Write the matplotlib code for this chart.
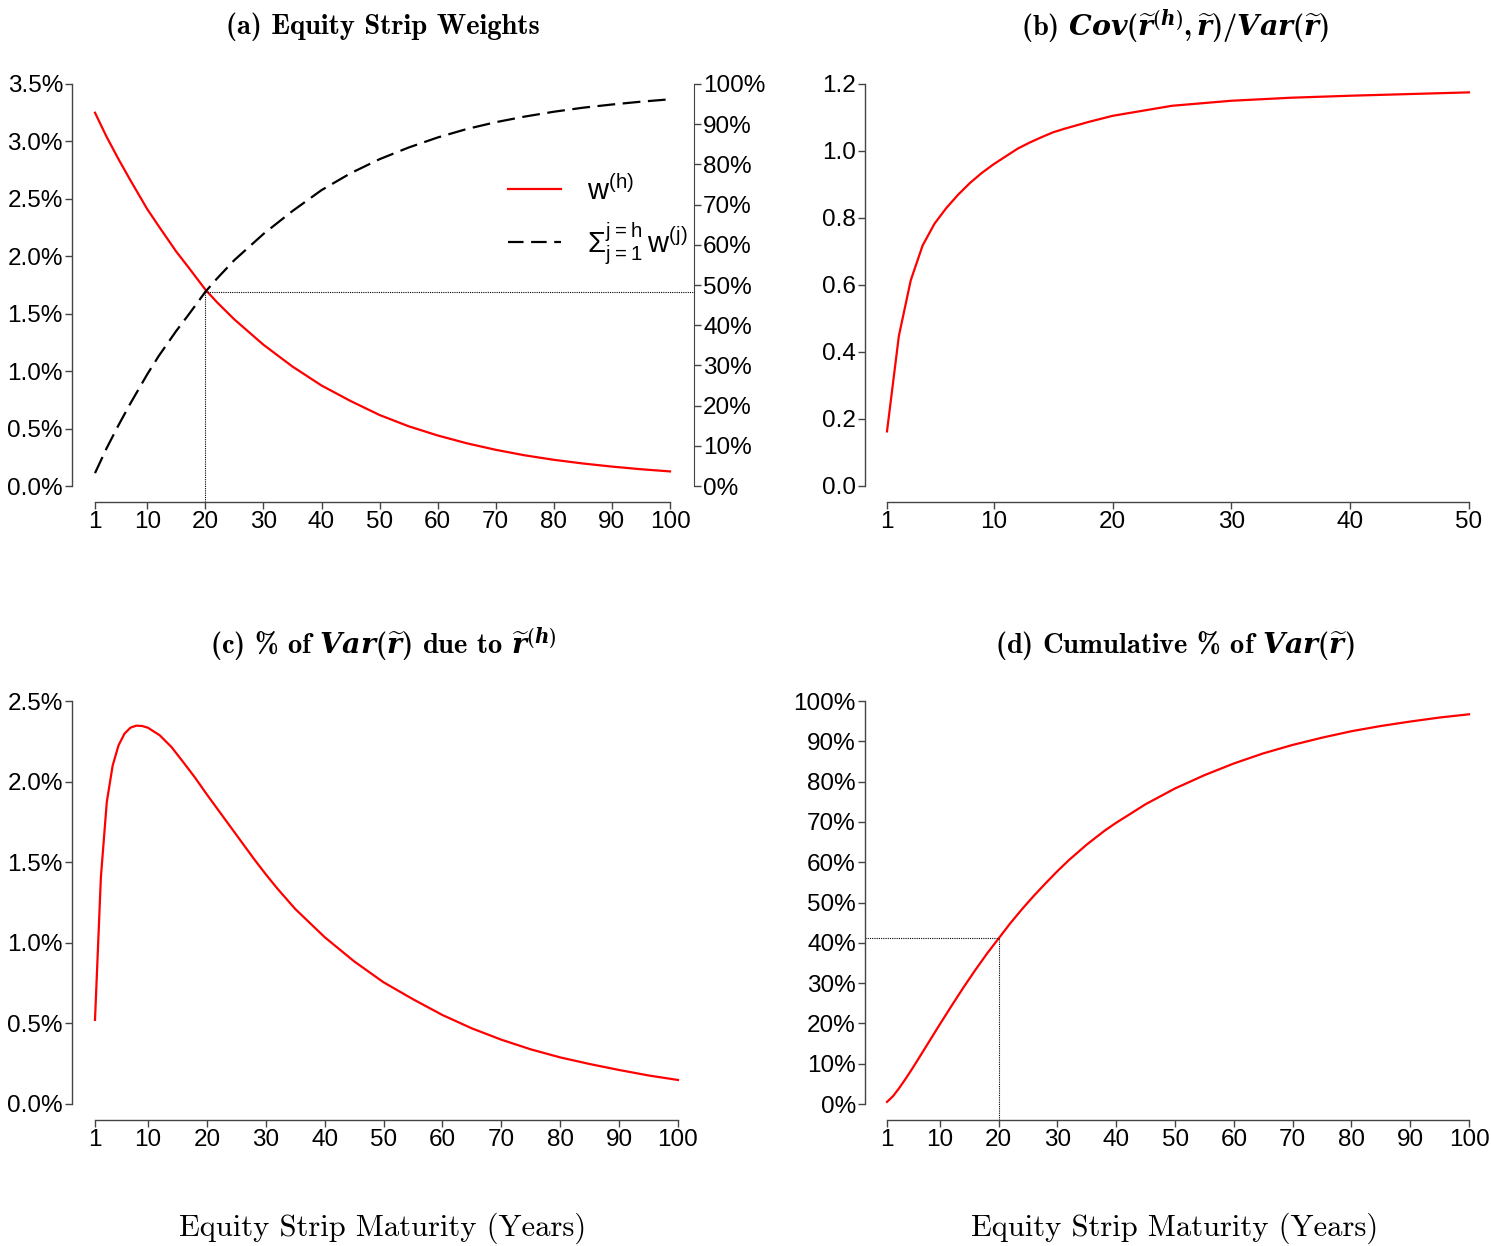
#
# Description: equity strip weights / variance decomposition, 2x2 panels
#

import matplotlib
matplotlib.use('Agg')
import matplotlib.pyplot as plt
from matplotlib.lines import Line2D

# ---- data ----
# (a) strip weights w(h) in %, and cumulative weight in %
h_a = [1, 3, 5, 7, 10, 12, 15, 17, 20, 22, 25, 30, 35, 40, 45, 50, 55, 60,
       65, 70, 75, 80, 85, 90, 95, 100]
w_h = [3.25, 3.04, 2.85, 2.67, 2.41, 2.26, 2.04, 1.91, 1.71, 1.60, 1.45, 1.23,
       1.04, 0.875, 0.74, 0.618, 0.52, 0.44, 0.372, 0.315, 0.267, 0.228, 0.196,
       0.169, 0.146, 0.127]
cum_w = [3.2, 9.4, 15.0, 20.3, 27.8, 32.4, 38.6, 42.4, 48.3, 51.6, 56.2, 62.7,
         68.4, 73.6, 77.8, 81.3, 84.2, 86.7, 88.8, 90.5, 91.9, 93.1, 94.1,
         94.9, 95.6, 96.2]

# (b) Cov(r_h, r) / Var(r)
h_b = [1, 2, 3, 4, 5, 6, 7, 8, 9, 10, 11, 12, 13, 14, 15, 16, 17, 18, 19,
       20, 25, 30, 35, 40, 45, 50]
cov_ratio = [0.163, 0.448, 0.614, 0.718, 0.783, 0.830, 0.870, 0.905, 0.935, 0.961,
             0.984, 1.007, 1.025, 1.041, 1.056, 1.067, 1.077, 1.087, 1.096,
             1.105, 1.135, 1.150, 1.159, 1.165, 1.170, 1.175]

# (c) % of Var(r) due to r_h
h_c = [1, 2, 3, 4, 5, 6, 7, 8, 9, 10, 12, 14, 16, 18, 20, 22, 24, 26, 28, 30,
       32, 35, 40, 45, 50, 55, 60, 65, 70, 75, 80, 85, 90, 95, 100]
var_share = [0.522, 1.407, 1.873, 2.10, 2.225, 2.297, 2.334, 2.347, 2.345, 2.334,
             2.287, 2.214, 2.12, 2.024, 1.92, 1.82, 1.72, 1.62, 1.52, 1.425,
             1.335, 1.21, 1.035, 0.885, 0.755, 0.65, 0.552, 0.469, 0.399, 0.339,
             0.289, 0.248, 0.211, 0.177, 0.149]

# (d) cumulative % of Var(r)
h_d = [1, 2, 3, 4, 5, 6, 8, 10, 12, 14, 16, 18, 20, 22, 24, 26, 28, 30,
       32, 35, 38, 40, 45, 50, 55, 60, 65, 70, 75, 80, 85, 90, 95, 100]
cum_var = [0.52, 1.9, 3.8, 5.9, 8.1, 10.4, 15.1, 19.8, 24.4, 28.9, 33.2, 37.3,
           41.1, 44.9, 48.4, 51.7, 54.8, 57.8, 60.6, 64.4, 67.8, 69.8, 74.4,
           78.3, 81.6, 84.5, 87.0, 89.1, 90.9, 92.5, 93.8, 94.9, 95.9, 96.7]

x_ticks_long = [1, 10, 20, 30, 40, 50, 60, 70, 80, 90, 100]
x_ticks_short = [1, 10, 20, 30, 40, 50]

# ---- style ----
plt.rcParams['font.family'] = ['Liberation Sans']
plt.rcParams['mathtext.fontset'] = 'custom'
plt.rcParams['mathtext.rm'] = 'cmb10'
plt.rcParams['mathtext.bf'] = 'cmb10'
plt.rcParams['mathtext.it'] = 'DejaVu Serif:italic:bold'
plt.rcParams['mathtext.sf'] = 'Liberation Sans'

W, H = 1491, 1246
fig = plt.figure(figsize=(W / 100, H / 100), dpi=100)

SPINE = '#444444'
TICK_FS = 17.5


def r_axes(box, xlim, ylim, xticks, yticks, ylabels):
    # box = (left, top, right, bottom) in pixels, R-like detached axes
    l, t, r, b = box
    ax = fig.add_axes([l / W, 1 - b / H, (r - l) / W, (b - t) / H])
    ax.set_xlim(xlim)
    ax.set_ylim(ylim)
    ax.spines[['top', 'right']].set_visible(False)
    for s in ['left', 'bottom']:
        ax.spines[s].set_color(SPINE)
        ax.spines[s].set_linewidth(1.0)
    ax.spines['left'].set_bounds(yticks[0], yticks[-1])
    ax.spines['bottom'].set_bounds(xticks[0], xticks[-1])
    ax.set_xticks(xticks)
    ax.set_xticklabels([str(v) for v in xticks])
    ax.set_yticks(yticks)
    ax.set_yticklabels(ylabels)
    ax.tick_params(length=5, width=1, color=SPINE, labelsize=TICK_FS, pad=1.5)
    ax.patch.set_visible(False)
    return ax


RED = '#ff0000'

# (a)
ax_a = r_axes((72, 84, 694, 502), (-2.96, 104.13), (-0.1393, 3.5), x_ticks_long,
              [0, 0.5, 1.0, 1.5, 2.0, 2.5, 3.0, 3.5],
              ['0.0%', '0.5%', '1.0%', '1.5%', '2.0%', '2.5%', '3.0%', '3.5%'])
ax_a2 = ax_a.twinx()
ax_a2.set_ylim(-3.98, 100)
ax_a2.spines[['top', 'left', 'bottom']].set_visible(False)
ax_a2.spines['right'].set_color(SPINE)
ax_a2.spines['right'].set_bounds(0, 100)
ax_a2.set_yticks(range(0, 101, 10))
ax_a2.set_yticklabels([f'{v}%' for v in range(0, 101, 10)])
ax_a2.tick_params(length=5, width=1, color=SPINE, labelsize=TICK_FS, pad=1.5)

i20 = h_a.index(20)
ax_a.plot(h_a, w_h, color=RED, lw=1.6)
ax_a2.plot(h_a, cum_w, color='black', lw=1.6, dashes=(8, 3.4))
ax_a.plot([20, 20], [-0.1393, w_h[i20]], color='black', lw=0.8, ls=(0, (1, 1)), clip_on=False)
ax_a2.plot([20, 104.13], [cum_w[i20], cum_w[i20]], color='black', lw=0.8, ls=(0, (1, 1)))

handles = [Line2D([], [], color=RED, lw=1.6),
           Line2D([], [], color='black', lw=1.6, dashes=(7, 3.4))]
labels = [r'$\mathsf{w}^{\mathsf{(h)}}$',
          r'$\mathsf{\Sigma}_{\mathsf{j=1}}^{\mathsf{j=h}}\,\mathsf{w}^{\mathsf{(j)}}$']
ax_a2.legend(handles, labels, loc='upper left', bbox_to_anchor=(508 / W, 1 - 175 / H),
             bbox_transform=fig.transFigure, frameon=False, fontsize=21,
             handlelength=1.82, handletextpad=0.9, labelspacing=0.5,
             borderpad=0, borderaxespad=0)

# (b)
ax_b = r_axes((865, 84, 1480, 502), (-0.852, 50.93), (-0.0478, 1.2), x_ticks_short,
              [0, 0.2, 0.4, 0.6, 0.8, 1.0, 1.2],
              ['0.0', '0.2', '0.4', '0.6', '0.8', '1.0', '1.2'])
ax_b.plot(h_b, cov_ratio, color=RED, lw=1.6)

# (c)
ax_c = r_axes((72, 701, 700, 1120), (-2.906, 103.74), (-0.0993, 2.5), x_ticks_long,
              [0, 0.5, 1.0, 1.5, 2.0, 2.5],
              ['0.0%', '0.5%', '1.0%', '1.5%', '2.0%', '2.5%'])
ax_c.plot(h_c, var_share, color=RED, lw=1.6)

# (d)
ax_d = r_axes((865, 701, 1480, 1120), (-2.742, 101.87), (-3.97, 100), x_ticks_long,
              list(range(0, 101, 10)), [f'{v}%' for v in range(0, 101, 10)])
j20 = h_d.index(20)
ax_d.plot(h_d, cum_var, color=RED, lw=1.6)
ax_d.plot([20, 20], [-3.97, cum_var[j20]], color='black', lw=0.8, ls=(0, (1, 1)))
ax_d.plot([-2.742, 20], [cum_var[j20], cum_var[j20]], color='black', lw=0.8, ls=(0, (1, 1)))

# titles
TITLE_FS = 20.5
fig.text(383 / W, 1 - 27 / H, '(a) Equity Strip Weights', family='cmb10',
         fontsize=TITLE_FS, ha='center', va='center')
fig.text(1175 / W, 1 - 27 / H,
         r'(b) $Cov\mathbf{(}\widetilde{r}^{\mathbf{(}h\mathbf{)}}\mathbf{,}\,\widetilde{r}\mathbf{)/}Var\mathbf{(}\widetilde{r}\mathbf{)}$',
         family='cmb10', fontsize=TITLE_FS, ha='center', va='center')
fig.text(383 / W, 1 - 645 / H,
         r'(c) % of $Var\mathbf{(}\widetilde{r}\mathbf{)}$ due to $\widetilde{r}^{\mathbf{(}h\mathbf{)}}$',
         family='cmb10', fontsize=TITLE_FS, ha='center', va='center')
fig.text(1175 / W, 1 - 645 / H,
         r'(d) Cumulative % of $Var\mathbf{(}\widetilde{r}\mathbf{)}$',
         family='cmb10', fontsize=TITLE_FS, ha='center', va='center')

# x labels
for xc in (383, 1175):
    fig.text(xc / W, 1 - 1228 / H, 'Equity Strip Maturity (Years)', family='cmr10',
             fontsize=22, ha='center', va='center')

plt.savefig('out.png', dpi=100)
